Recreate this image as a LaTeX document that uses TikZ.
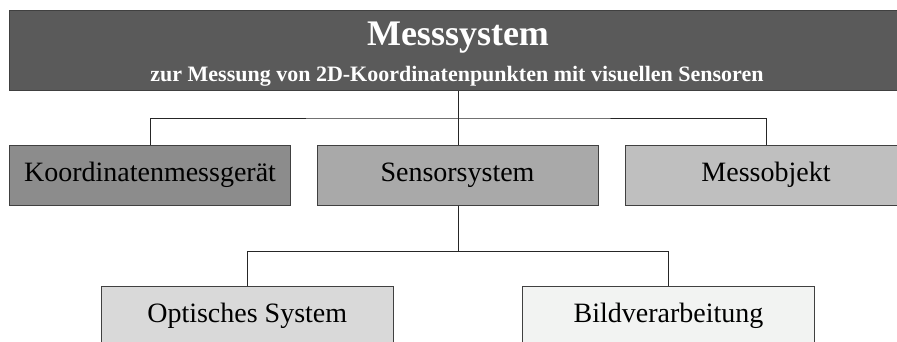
\documentclass[tikz,border=0pt]{standalone}
\usepackage{fontspec}
\setmainfont{Liberation Serif}
\usetikzlibrary{calc}

\definecolor{headfill}{HTML}{5A5A5A}
\definecolor{fillA}{HTML}{8C8C8C}
\definecolor{fillB}{HTML}{A9A9A9}
\definecolor{fillC}{HTML}{BFBFBF}
\definecolor{fillD}{HTML}{D9D9D9}
\definecolor{fillE}{HTML}{F2F3F2}
\definecolor{edge}{HTML}{404040}

\tikzset{
  box/.style={draw=edge, line width=1pt, rectangle, inner sep=0pt,
    minimum height=60pt, font=\fontsize{28}{32}\selectfont},
  boxtwo/.style={box, minimum width=281pt},
  boxthree/.style={box, minimum width=291.5pt},
  wire/.style={draw=black!85, line width=1pt}
}

\begin{document}
\begin{tikzpicture}[x=1pt, y=-1pt]
  \useasboundingbox (0,0) rectangle (897,341);
  \clip (0,0) rectangle (897,341);
  \fill[white] (0,0) rectangle (897,341);

  % header band
  \node[draw=edge, line width=1pt, fill=headfill, inner sep=0pt,
        minimum width=897.5pt, minimum height=80pt] (head) at (458.25,50) {};
  \node[anchor=base, text=white, inner sep=0pt,
        font=\fontsize{36}{40}\selectfont\bfseries] (title) at (458,45) {Messsystem};
  \node[anchor=base, text=white, inner sep=0pt,
        font=\fontsize{22}{26}\selectfont\bfseries] (subtitle) at (457,81)
        {zur Messung von 2D-Koordinatenpunkten mit visuellen Sensoren};

  % second level
  \node[boxtwo, fill=fillA] (kmg)  at (150,175)   {Koordinatenmessgerät};
  \node[boxtwo, fill=fillB] (sens) at (457.5,175) {Sensorsystem};
  \node[boxtwo, fill=fillC] (obj)  at (766,175)   {Messobjekt};

  % third level
  \node[boxthree, fill=fillD] (opt) at (247.25,316) {Optisches System};
  \node[boxthree, fill=fillE] (bild) at (668.5,316) {Bildverarbeitung};

  % connectors
  \coordinate (busA) at (458,118);
  \coordinate (busB) at (458,251.5);
  \draw[wire] (head.south -| busA) -- (busA);
  \draw[wire] (kmg.north) |- (busA) -| (obj.north);
  \draw[wire] (busA) -- (busA |- sens.north);
  \draw[wire] (sens.south -| busB) -- (busB);
  \draw[wire] (opt.north) |- (busB) -| (bild.north);
\end{tikzpicture}
\end{document}
